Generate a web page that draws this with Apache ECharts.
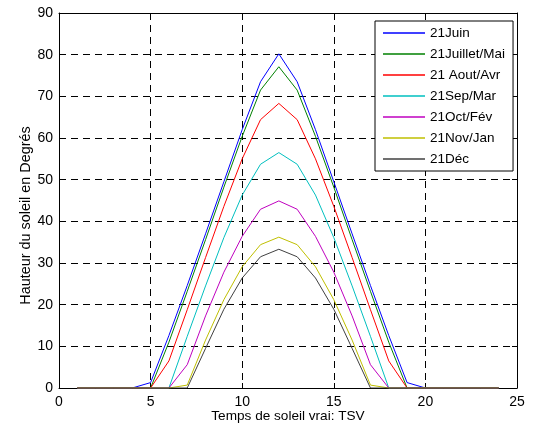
<!DOCTYPE html>
<html>
<head>
<meta charset="utf-8">
<title>Hauteur du soleil</title>
<script src="https://cdn.jsdelivr.net/npm/echarts@6/dist/echarts.min.js"></script>
<style>
  html, body { margin: 0; padding: 0; background: #fff; }
  #chart { width: 533px; height: 430px; }
</style>
</head>
<body>
<div id="chart"></div>
<script>
// Solar time (hours, TSV)
const hours = [1, 2, 3, 4, 5, 6, 7, 8, 9, 10, 11, 12, 13, 14, 15, 16, 17, 18, 19, 20, 21, 22, 23, 24];

// Sun elevation in degrees for each reference day
const juin      = [0, 0, 0, 0, 1.3, 12.6, 24.6, 37.0, 49.5, 62.0, 73.5, 80.2, 73.5, 62.0, 49.5, 37.0, 24.6, 12.6, 1.3, 0, 0, 0, 0, 0];
const juilletMai = [0, 0, 0, 0, 0, 11.0, 23.2, 35.6, 48.2, 60.4, 71.5, 77.1, 71.5, 60.4, 48.2, 35.6, 23.2, 11.0, 0, 0, 0, 0, 0, 0];
const aoutAvr   = [0, 0, 0, 0, 0, 6.5, 18.8, 31.3, 43.6, 55.0, 64.4, 68.3, 64.4, 55.0, 43.6, 31.3, 18.8, 6.5, 0, 0, 0, 0, 0, 0];
const sepMar    = [0, 0, 0, 0, 0, 0, 12.4, 24.5, 36.1, 46.3, 53.7, 56.5, 53.7, 46.3, 36.1, 24.5, 12.4, 0, 0, 0, 0, 0, 0, 0];
const octFev    = [0, 0, 0, 0, 0, 0, 5.6, 17.3, 27.8, 36.4, 42.9, 44.9, 42.9, 36.4, 27.8, 17.3, 5.6, 0, 0, 0, 0, 0, 0, 0];
const novJan    = [0, 0, 0, 0, 0, 0, 0.7, 11.5, 21.2, 29.1, 34.4, 36.2, 34.4, 29.1, 21.2, 11.5, 0.7, 0, 0, 0, 0, 0, 0, 0];
const dec       = [0, 0, 0, 0, 0, 0, 0, 9.5, 18.9, 26.4, 31.5, 33.3, 31.5, 26.4, 18.9, 9.5, 0, 0, 0, 0, 0, 0, 0, 0];

const seriesNames = ['21Juin', '21Juillet/Mai', '21 Aout/Avr', '21Sep/Mar', '21Oct/Fév', '21Nov/Jan', '21Déc'];
const seriesValues = [juin, juilletMai, aoutAvr, sepMar, octFev, novJan, dec];
const seriesColors = ['#0000ff', '#008000', '#ff0000', '#00bfbf', '#bf00bf', '#bfbf00', '#404040'];

const xTicks = { min: 0, max: 25, interval: 5 };
const yTicks = { min: 0, max: 90, interval: 10 };

const FONT = "'Liberation Sans', Arial, sans-serif";
const gridDash = [7, 5];

function frameAxis(extra) {
  return Object.assign({
    type: 'value',
    axisLine: { show: true, onZero: false, lineStyle: { color: '#000', width: 1 } },
    axisTick: { show: true, inside: true, length: 5, lineStyle: { color: '#000', width: 1 } },
    axisLabel: { show: false },
    splitLine: { show: false }
  }, extra);
}

const chart = echarts.init(document.getElementById('chart'), null, { renderer: 'canvas' });

chart.setOption({
  animation: false,
  backgroundColor: '#fff',
  textStyle: { fontFamily: FONT },
  grid: { left: 59, right: 16, top: 13, bottom: 42, containLabel: false, outerBoundsMode: 'none' },
  legend: {
    orient: 'vertical',
    left: 375,
    top: 21,
    icon: 'rect',
    itemWidth: 42,
    itemHeight: 1.5,
    itemGap: 7,
    padding: [5, 8, 5, 8],
    backgroundColor: '#fff',
    borderColor: '#000',
    borderWidth: 1,
    borderRadius: 0,
    textStyle: { color: '#000', fontSize: 13.5, fontFamily: FONT, lineHeight: 14 },
    data: seriesNames
  },
  xAxis: [
    frameAxis({
      position: 'bottom',
      min: xTicks.min, max: xTicks.max, interval: xTicks.interval,
      axisLabel: { show: true, color: '#000', fontSize: 14, fontFamily: FONT, margin: 7 },
      splitLine: { show: true, lineStyle: { color: '#000', width: 1, type: gridDash } },
      name: 'Temps de soleil vrai: TSV',
      nameLocation: 'middle',
      nameGap: 21,
      nameMoveOverlap: false,
      nameTextStyle: { color: '#000', fontSize: 13.6, fontFamily: FONT }
    }),
    frameAxis({ position: 'top', min: xTicks.min, max: xTicks.max, interval: xTicks.interval })
  ],
  yAxis: [
    frameAxis({
      position: 'left',
      min: yTicks.min, max: yTicks.max, interval: yTicks.interval,
      axisLabel: { show: true, color: '#000', fontSize: 14, fontFamily: FONT, margin: 6 },
      splitLine: { show: true, lineStyle: { color: '#000', width: 1, type: gridDash } },
      name: 'Hauteur du soleil en Degrés',
      nameLocation: 'middle',
      nameGap: 26,
      nameMoveOverlap: false,
      nameTextStyle: { color: '#000', fontSize: 14.4, fontFamily: FONT, padding: [0, 30, 0, 0] }
    }),
    frameAxis({ position: 'right', min: yTicks.min, max: yTicks.max, interval: yTicks.interval })
  ],
  series: seriesNames.map((name, i) => ({
    name: name,
    type: 'line',
    xAxisIndex: 0,
    yAxisIndex: 0,
    symbol: 'none',
    showSymbol: false,
    color: seriesColors[i],
    lineStyle: { color: seriesColors[i], width: 1 },
    emphasis: { disabled: true },
    data: hours.map((h, k) => [h, seriesValues[i][k]])
  }))
});
</script>
</body>
</html>
